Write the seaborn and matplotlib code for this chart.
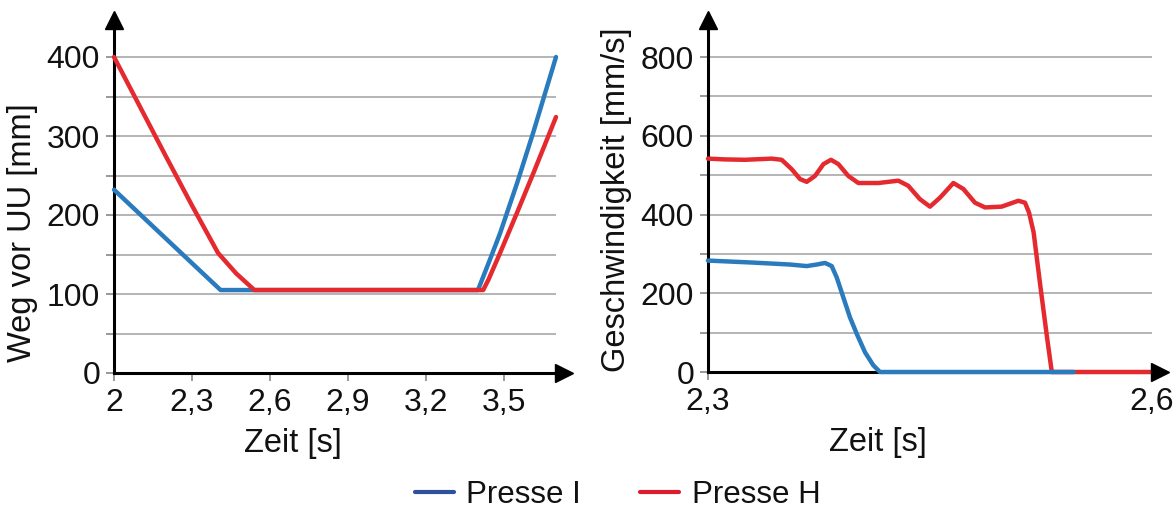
import numpy as np
import pandas as pd
import matplotlib
matplotlib.use("Agg")
import matplotlib.pyplot as plt
import seaborn as sns
from matplotlib.lines import Line2D
from matplotlib.ticker import FixedLocator, FuncFormatter

# ---------------- data ----------------
# Left panel: Weg vor UU [mm] over Zeit [s]
weg_i_t = [2.00, 2.10, 2.20, 2.30, 2.41, 2.53, 3.00, 3.40, 3.45, 3.485, 3.55, 3.613, 3.70]
weg_i   = [232, 201, 170, 139, 105, 105, 105, 105, 147, 177, 240, 305, 400]
weg_h_t = [2.00, 2.10, 2.20, 2.30, 2.40, 2.47, 2.54, 3.00, 3.42, 3.44, 3.485, 3.549, 3.613, 3.70]
weg_h   = [400, 337, 274, 212, 152, 126, 105, 105, 105, 118, 152, 202, 253, 324]

# Right panel: Geschwindigkeit [mm/s] over Zeit [s]
v_i_t = [2.300, 2.330, 2.3554, 2.3667, 2.3735, 2.3791, 2.3836, 2.3870, 2.3914,
         2.3959, 2.4005, 2.4061, 2.4117, 2.4162, 2.4500, 2.5000, 2.5470]
v_i   = [283, 278, 273, 269, 273, 277, 269, 240, 190, 139, 97, 50, 17, 0, 0, 0, 0]
v_h_t = [2.3000, 2.3115, 2.3250, 2.3430, 2.3498, 2.3566, 2.3622, 2.3667, 2.3723,
         2.3780, 2.3831, 2.3881, 2.3948, 2.4016, 2.4151, 2.4286, 2.4353, 2.4432,
         2.4500, 2.4568, 2.4658, 2.4725, 2.4804, 2.4872, 2.4984, 2.5097, 2.5142,
         2.5169, 2.5200, 2.5245, 2.5290, 2.5323, 2.5600, 2.6000]
v_h   = [542, 540, 539, 542, 539, 515, 490, 483, 498, 528, 539, 528, 498, 480,
         480, 486, 473, 439, 420, 443, 480, 465, 430, 418, 420, 435, 430, 405,
         355, 220, 90, 0, 0, 0]

series_names = ["Presse I", "Presse H"]
left_xticks = [2.0, 2.3, 2.6, 2.9, 3.2, 3.5]
left_yticks = [0, 100, 200, 300, 400]
right_xticks = [2.3, 2.6]
right_yticks = [0, 200, 400, 600, 800]

# ---------------- style ----------------
sns.set_theme(style="white")
plt.rcParams['font.family'] = ['Liberation Sans', 'DejaVu Sans']
plt.rcParams['text.color'] = '#111111'
plt.rcParams['axes.labelcolor'] = '#111111'
plt.rcParams['xtick.color'] = '#111111'
plt.rcParams['ytick.color'] = '#111111'

c_blue = '#2a7bbd'
c_red = '#e42a2f'
leg_blue = '#2d50a0'
leg_red = '#dc1c2c'
grid_c = '#a8a8a8'
palette = {series_names[0]: c_blue, series_names[1]: c_red}

df_weg = pd.concat([
    pd.DataFrame({"t": weg_i_t, "v": weg_i, "Presse": series_names[0]}),
    pd.DataFrame({"t": weg_h_t, "v": weg_h, "Presse": series_names[1]}),
], ignore_index=True)
df_v = pd.concat([
    pd.DataFrame({"t": v_h_t, "v": v_h, "Presse": series_names[1]}),
    pd.DataFrame({"t": v_i_t, "v": v_i, "Presse": series_names[0]}),
], ignore_index=True)

fig = plt.figure(figsize=(11.74, 5.09), dpi=100)
ax1 = fig.add_axes([114/1174, 136/509, 450/1174, 353/509])
ax2 = fig.add_axes([708/1174, 137/509, 452/1174, 352/509])

comma = FuncFormatter(lambda x, p: (f"{x:g}").replace('.', ','))


def style_axis(ax, xlim, ylim, xticks, yticks, minor_y, grid_y, grid_x_end, xlabel, ylabel, xl_x, yl_y):
    ax.set_xlim(*xlim)
    ax.set_ylim(*ylim)
    for s in ['top', 'right']:
        ax.spines[s].set_visible(False)
    for s in ['left', 'bottom']:
        ax.spines[s].set_color('black')
        ax.spines[s].set_linewidth(2.2)
        ax.spines[s].set_zorder(3)
    ax.hlines(grid_y, xlim[0], grid_x_end, color=grid_c, lw=1.2, zorder=1)
    ax.xaxis.set_major_locator(FixedLocator(xticks))
    ax.yaxis.set_major_locator(FixedLocator(yticks))
    ax.yaxis.set_minor_locator(FixedLocator(minor_y))
    ax.xaxis.set_major_formatter(comma)
    ax.tick_params(axis='both', which='both', direction='out', length=6, width=1.2,
                   color='#888888', labelsize=23, pad=4, bottom=True, left=True)
    ax.tick_params(axis='x', pad=5)
    ax.set_xlabel(xlabel, fontsize=23.5, labelpad=7)
    ax.set_ylabel(ylabel, fontsize=23.5, labelpad=6)
    ax.xaxis.label.set_x(xl_x)
    ax.yaxis.label.set_y(yl_y)
    ax.plot(1, 0, marker='>', color='black', markersize=13, transform=ax.transAxes,
            clip_on=False, zorder=5)
    ax.plot(0, 1, marker='^', color='black', markersize=13, transform=ax.transAxes,
            clip_on=False, zorder=5)


sns.lineplot(data=df_weg, x="t", y="v", hue="Presse", palette=palette, ax=ax1,
             legend=False, linewidth=3.2, estimator=None, sort=False)
sns.lineplot(data=df_v, x="t", y="v", hue="Presse", palette=palette, ax=ax2,
             legend=False, linewidth=3.2, estimator=None, sort=False)
for ax in (ax1, ax2):
    for ln in ax.get_lines():
        ln.set_clip_on(False)
        ln.set_zorder(4)
        ln.set_solid_joinstyle('round')
        ln.set_solid_capstyle('round')
# red over blue on left, blue over red on right
ax1.get_lines()[1].set_zorder(4.5)
ax2.get_lines()[1].set_zorder(4.5)

style_axis(ax1, (2.0, 2.0 + 450 / 260), (0, 353 / 0.79), left_xticks, left_yticks,
           [50, 150, 250, 350], [50, 100, 150, 200, 250, 300, 350, 400], 3.70,
           "Zeit [s]", "Weg vor UU [mm]", 0.397, 0.397)
style_axis(ax2, (2.3, 2.3 + 452 * 0.3 / 444), (0, 352 * 2.54), right_xticks, right_yticks,
           [100, 300, 500, 700], [100, 200, 300, 400, 500, 600, 700, 800], 2.6,
           "Zeit [s]", "Geschwindigkeit [mm/s]", 0.376, 0.489)

handles = [Line2D([0], [0], color=leg_blue, lw=3), Line2D([0], [0], color=leg_red, lw=3)]
fig.legend(handles, series_names, loc='center', bbox_to_anchor=(0.526, 0.0275), ncol=2,
           frameon=False, fontsize=22.5, handlelength=1.25, handletextpad=0.4,
           columnspacing=1.9, borderpad=0.1)

fig.savefig("out.png", dpi=100)
